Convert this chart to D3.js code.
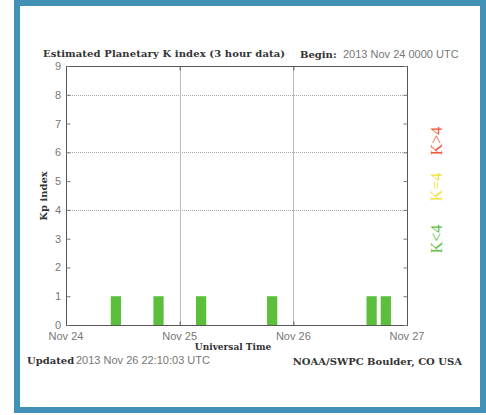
<!DOCTYPE html>
<html>
<head>
<meta charset="utf-8">
<script src="https://cdn.jsdelivr.net/npm/d3@7"></script>
<style>
  body { margin: 0; background: #fff; }
  svg { display: block; }
</style>
</head>
<body>
<div id="chart"></div>
<script>
// 3 hour Kp bins starting 2013 Nov 24 00 UTC
var binStarts = [];
for (var i = 0; i < 24; i++) binStarts.push(Date.UTC(2013, 10, 24, i * 3));
var kpValues = [0, 0, 0, 1, 0, 0, 1, 0, 0, 1, 0, 0, 0, 0, 1, 0, 0, 0, 0, 0, 0, 1, 1];
var dayTicks = ["Nov 24", "Nov 25", "Nov 26", "Nov 27"];
var yTicks = [0, 1, 2, 3, 4, 5, 6, 7, 8, 9];
var gridLevels = [4, 6, 8];
var legendLabels = ["K>4", "K=4", "K<4"];
var legendColors = ["#f2573a", "#f3e33c", "#62c043"];

var width = 486, height = 415;
var plotLeft = 66, plotRight = 407, plotTop = 66, plotBottom = 325;
var serif = "'DejaVu Serif', serif";
var sans = "'Liberation Sans', Arial, sans-serif";

var svg = d3.select("#chart").append("svg")
    .attr("width", width)
    .attr("height", height);

svg.append("rect")
    .attr("width", width).attr("height", height)
    .attr("fill", "#fff");

// blue frame
svg.append("rect")
    .attr("x", 17).attr("y", 3)
    .attr("width", 466).attr("height", 407)
    .attr("fill", "none")
    .attr("stroke", "#4290b6")
    .attr("stroke-width", 6);

var x = d3.scaleTime()
    .domain([new Date(Date.UTC(2013, 10, 24)), new Date(Date.UTC(2013, 10, 27))])
    .range([plotLeft, plotRight]);

var y = d3.scaleLinear()
    .domain([0, 9])
    .range([plotBottom, plotTop]);

var dayDates = dayTicks.map(function (d, i) { return new Date(Date.UTC(2013, 10, 24 + i)); });
var binWidth = x(new Date(binStarts[1])) - x(new Date(binStarts[0]));

// grid
svg.selectAll(".hgrid").data(gridLevels).enter().append("line")
    .attr("x1", plotLeft).attr("x2", plotRight)
    .attr("y1", function (d) { return Math.round(y(d)) + 0.5; })
    .attr("y2", function (d) { return Math.round(y(d)) + 0.5; })
    .attr("stroke", "#aaa")
    .attr("stroke-width", 1)
    .attr("stroke-dasharray", "1,1");

svg.selectAll(".vgrid").data(dayDates.slice(1, 3)).enter().append("line")
    .attr("x1", function (d) { return Math.round(x(d)) + 0.5; })
    .attr("x2", function (d) { return Math.round(x(d)) + 0.5; })
    .attr("y1", plotTop).attr("y2", plotBottom)
    .attr("stroke", "#bbb")
    .attr("stroke-width", 1);

// bars
svg.selectAll(".bar").data(kpValues).enter().append("rect")
    .attr("x", function (d, i) { return x(new Date(binStarts[i])) + binWidth * 0.15; })
    .attr("y", function (d) { return y(d); })
    .attr("width", binWidth * 0.72)
    .attr("height", function (d) { return plotBottom - y(d); })
    .attr("fill", "#5cbf3c");

// plot box
svg.append("rect")
    .attr("x", plotLeft + 0.5).attr("y", plotTop + 0.5)
    .attr("width", plotRight - plotLeft).attr("height", plotBottom - plotTop)
    .attr("fill", "none")
    .attr("stroke", "#555")
    .attr("stroke-width", 1);

// axes, ticks pointing inward
var yAxisL = d3.axisRight(y).tickValues(yTicks).tickSize(4).tickFormat("");
svg.append("g").attr("transform", "translate(" + (plotLeft + 0.5) + ",0)").call(yAxisL)
    .call(function (g) { g.select(".domain").remove(); g.selectAll("line").attr("stroke", "#777"); });
var yAxisR = d3.axisLeft(y).tickValues(yTicks).tickSize(4).tickFormat("");
svg.append("g").attr("transform", "translate(" + (plotRight + 0.5) + ",0)").call(yAxisR)
    .call(function (g) { g.select(".domain").remove(); g.selectAll("line").attr("stroke", "#777"); });
var xAxisB = d3.axisTop(x).tickValues(dayDates).tickSize(4).tickFormat("");
svg.append("g").attr("transform", "translate(0," + (plotBottom + 0.5) + ")").call(xAxisB)
    .call(function (g) { g.select(".domain").remove(); g.selectAll("line").attr("stroke", "#555"); });
var xAxisT = d3.axisBottom(x).tickValues(dayDates).tickSize(4).tickFormat("");
svg.append("g").attr("transform", "translate(0," + (plotTop + 0.5) + ")").call(xAxisT)
    .call(function (g) { g.select(".domain").remove(); g.selectAll("line").attr("stroke", "#555"); });

// tick labels
svg.selectAll(".ylab").data(yTicks).enter().append("text")
    .attr("x", plotLeft - 5)
    .attr("y", function (d) { return y(d) + 4; })
    .attr("text-anchor", "end")
    .attr("font-family", sans)
    .attr("font-size", 11)
    .attr("fill", "#777")
    .text(function (d) { return d; });

svg.selectAll(".xlab").data(dayTicks).enter().append("text")
    .attr("x", function (d, i) { return x(dayDates[i]); })
    .attr("y", 340)
    .attr("text-anchor", "middle")
    .attr("font-family", sans)
    .attr("font-size", 11)
    .attr("fill", "#777")
    .text(function (d) { return d; });

// titles
svg.append("text")
    .attr("x", 43).attr("y", 57)
    .attr("font-family", serif).attr("font-weight", "bold")
    .attr("font-size", 10).attr("fill", "#333")
    .attr("textLength", 242)
    .text("Estimated Planetary K index (3 hour data)");
svg.append("text")
    .attr("x", 300).attr("y", 58)
    .attr("font-family", serif).attr("font-weight", "bold")
    .attr("font-size", 10).attr("fill", "#333")
    .text("Begin:");
svg.append("text")
    .attr("x", 343).attr("y", 58)
    .attr("font-family", sans)
    .attr("font-size", 11).attr("fill", "#777")
    .text("2013 Nov 24 0000 UTC");

svg.append("text")
    .attr("transform", "translate(47,196) rotate(-90)")
    .attr("text-anchor", "middle")
    .attr("font-family", serif).attr("font-weight", "bold")
    .attr("font-size", 10).attr("fill", "#333")
    .text("Kp index");

svg.append("text")
    .attr("x", 233).attr("y", 350)
    .attr("text-anchor", "middle")
    .attr("font-family", serif).attr("font-weight", "bold")
    .attr("font-size", 9).attr("fill", "#333")
    .text("Universal Time");

svg.append("text")
    .attr("x", 27).attr("y", 364)
    .attr("font-family", serif).attr("font-weight", "bold")
    .attr("font-size", 10).attr("fill", "#333")
    .text("Updated");
svg.append("text")
    .attr("x", 76).attr("y", 364)
    .attr("font-family", sans)
    .attr("font-size", 11).attr("fill", "#777")
    .text("2013 Nov 26 22:10:03 UTC");

svg.append("text")
    .attr("x", 462).attr("y", 365)
    .attr("text-anchor", "end")
    .attr("font-family", serif).attr("font-weight", "bold")
    .attr("font-size", 10).attr("fill", "#333")
    .text("NOAA/SWPC Boulder, CO USA");

// legend on the right
var legendY = [141, 187, 239];
svg.selectAll(".leg").data(legendLabels).enter().append("text")
    .attr("transform", function (d, i) { return "translate(442," + legendY[i] + ") rotate(-90)"; })
    .attr("text-anchor", "middle")
    .attr("font-family", "'Liberation Serif', serif")
    .attr("font-size", 16)
    .attr("fill", function (d, i) { return legendColors[i]; })
    .text(function (d) { return d; });
</script>
</body>
</html>
